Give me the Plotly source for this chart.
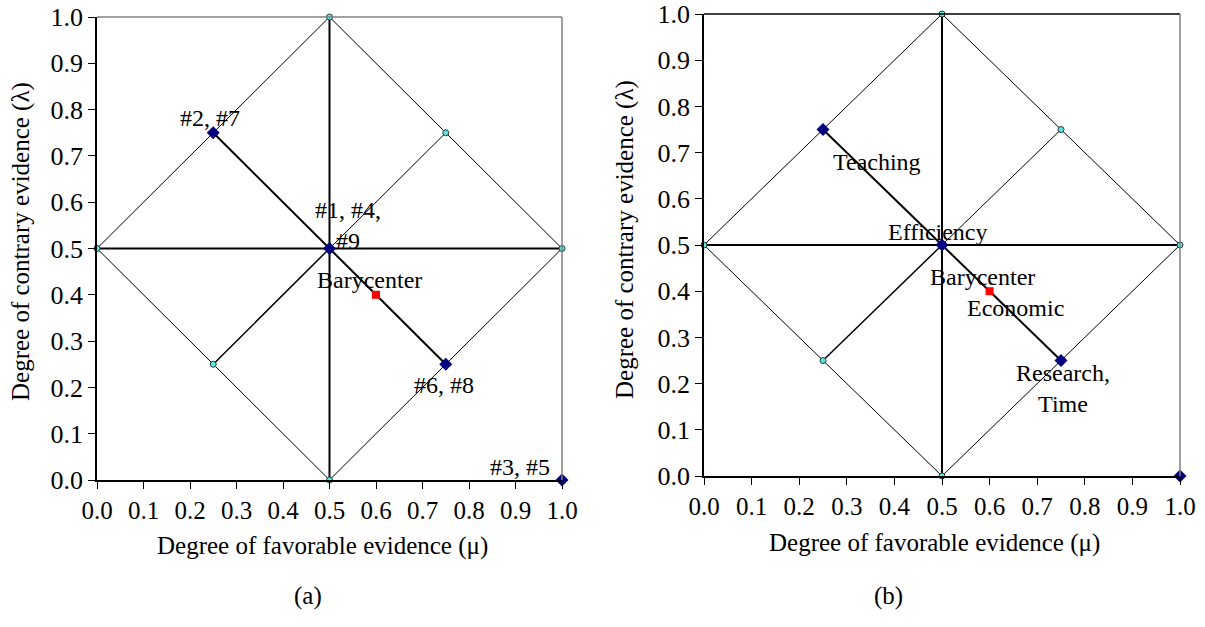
import plotly.graph_objects as go

# ---- para-analyzer lattice (favorable mu, contrary lambda) ----
outer_mu = [0, 0.5, 1, 0.5, 0]
outer_lam = [0.5, 1, 0.5, 0, 0.5]
hline_mu = [0, 1]
hline_lam = [0.5, 0.5]
vline_mu = [0.5, 0.5]
vline_lam = [0, 1]
diag_dn_mu = [0.25, 0.75]
diag_dn_lam = [0.75, 0.25]
diag_up_lo_mu = [0.25, 0.5]
diag_up_lo_lam = [0.25, 0.5]
diag_up_hi_mu = [0.5, 0.75]
diag_up_hi_lam = [0.5, 0.75]
vertex_mu = [0.5, 0, 1, 0.5, 0.75, 0.25]
vertex_lam = [1, 0.5, 0.5, 0, 0.75, 0.25]

# ---- evaluated points ----
pts_mu = [0.25, 0.5, 0.75, 1.0]
pts_lam = [0.75, 0.5, 0.25, 0.0]
labels_a = ["#2, #7", "#1, #4,<br>#9", "#6, #8", "#3, #5"]
labels_b = ["Teaching", "Efficiency", "Research,<br>Time", ""]
bary_mu = [0.6]
bary_lam = [0.4]
bary_labels_a = ["Barycenter"]
bary_labels_b = ["Barycenter", "Economic"]

tick_vals = [i / 10 for i in range(11)]
tick_text = ["%.1f" % v for v in tick_vals]

x_title = "Degree of favorable evidence (\u03bc)"
y_title = "Degree of contrary evidence (\u03bb)"
panel_tags = ["(a)", "(b)"]

FONT = "Liberation Serif, Times New Roman, serif"

W, H = 1205, 627


def px(x):
    return x / W


def py(y):
    return 1 - y / H


fig = go.Figure()


def add_panel(xa, ya):
    line_specs = [
        (outer_mu, outer_lam, 1),
        (hline_mu, hline_lam, 2),
        (vline_mu, vline_lam, 2),
        (diag_dn_mu, diag_dn_lam, 2),
        (diag_up_lo_mu, diag_up_lo_lam, 1.5),
        (diag_up_hi_mu, diag_up_hi_lam, 1),
    ]
    for mx, ly, w in line_specs:
        fig.add_trace(go.Scatter(x=mx, y=ly, mode="lines", xaxis=xa, yaxis=ya,
                                 line=dict(color="black", width=w),
                                 hoverinfo="skip", showlegend=False, cliponaxis=False))
    fig.add_trace(go.Scatter(x=vertex_mu, y=vertex_lam, mode="markers", xaxis=xa, yaxis=ya,
                             marker=dict(symbol="circle", size=6, color="rgb(90,230,225)",
                                         line=dict(color="rgb(40,60,60)", width=1)),
                             showlegend=False, cliponaxis=False))
    fig.add_trace(go.Scatter(x=pts_mu, y=pts_lam, mode="markers", xaxis=xa, yaxis=ya,
                             marker=dict(symbol="diamond", size=10, color="#000080"),
                             showlegend=False, cliponaxis=False))
    fig.add_trace(go.Scatter(x=bary_mu, y=bary_lam, mode="markers", xaxis=xa, yaxis=ya,
                             marker=dict(symbol="square", size=8, color="#ff0000"),
                             showlegend=False, cliponaxis=False))


add_panel("x", "y")
add_panel("x2", "y2")

axis_common = dict(range=[0, 1], tickvals=tick_vals, ticktext=tick_text,
                   showgrid=False, zeroline=False, showline=True, automargin=False,
                   linecolor="black", linewidth=1.5, ticks="outside",
                   ticklen=7, tickwidth=1, tickcolor="black", fixedrange=True)
xfont = dict(family=FONT, size=25, color="black")
yfont = dict(family=FONT, size=26, color="black")

fig.update_layout(
    template="none",
    width=W, height=H,
    margin=dict(l=0, r=0, t=0, b=0, pad=0),
    paper_bgcolor="white", plot_bgcolor="white",
    showlegend=False,
    xaxis=dict(domain=[px(97), px(562)], anchor="y", tickfont=xfont,
               ticklabelstandoff=0, **axis_common),
    yaxis=dict(domain=[py(480), py(17)], anchor="x", tickfont=yfont,
               **axis_common),
    xaxis2=dict(domain=[px(704), px(1180)], anchor="y2", tickfont=xfont,
                ticklabelstandoff=0, **axis_common),
    yaxis2=dict(domain=[py(476), py(14)], anchor="x2", tickfont=yfont,
                **axis_common),
)

# plot-area border (top / right)
shapes = [
    dict(type="line", xref="x domain", yref="y domain", x0=0, x1=1, y0=1, y1=1,
         line=dict(color="#808080", width=1.5)),
    dict(type="line", xref="x domain", yref="y domain", x0=1, x1=1, y0=0, y1=1,
         line=dict(color="#808080", width=1.5)),
    dict(type="line", xref="x2 domain", yref="y2 domain", x0=0, x1=1, y0=1, y1=1,
         line=dict(color="black", width=1.5)),
    dict(type="line", xref="x2 domain", yref="y2 domain", x0=1, x1=1, y0=0, y1=1,
         line=dict(color="#808080", width=1.5)),
]
fig.update_layout(shapes=shapes)

ann = []
lab_font = dict(family=FONT, size=24, color="black")

# point labels: (x offset, y offset) in pixels
offs_a = [(-3, 15), (18, 23), (-2, -21), (-42, 13)]
offs_b = [(54, -33), (-4, 13), (2, -28), (0, 0)]
for i in range(len(pts_mu)):
    if labels_a[i]:
        ann.append(dict(x=pts_mu[i], y=pts_lam[i], xref="x", yref="y", text=labels_a[i],
                        showarrow=False, xshift=offs_a[i][0], yshift=offs_a[i][1],
                        font=lab_font, align="center"))
    if labels_b[i]:
        ann.append(dict(x=pts_mu[i], y=pts_lam[i], xref="x2", yref="y2", text=labels_b[i],
                        showarrow=False, xshift=offs_b[i][0], yshift=offs_b[i][1],
                        font=lab_font, align="center"))

bary_offs_a = [(-7, 15)]
bary_offs_b = [(-7, 14), (26, -17)]
for t, (dx, dy) in zip(bary_labels_a, bary_offs_a):
    ann.append(dict(x=bary_mu[0], y=bary_lam[0], xref="x", yref="y", text=t,
                    showarrow=False, xshift=dx, yshift=dy, font=lab_font))
for t, (dx, dy) in zip(bary_labels_b, bary_offs_b):
    ann.append(dict(x=bary_mu[0], y=bary_lam[0], xref="x2", yref="y2", text=t,
                    showarrow=False, xshift=dx, yshift=dy, font=lab_font))

title_font = dict(family=FONT, size=25, color="black")
# axis titles
ann.append(dict(x=px(322), y=py(546), xref="paper", yref="paper", text=x_title,
                showarrow=False, font=title_font, xanchor="center", yanchor="middle"))
ann.append(dict(x=px(934), y=py(543), xref="paper", yref="paper", text=x_title,
                showarrow=False, font=title_font, xanchor="center", yanchor="middle"))
ann.append(dict(x=px(21), y=py(242), xref="paper", yref="paper", text=y_title,
                showarrow=False, font=title_font, textangle=-90,
                xanchor="center", yanchor="middle"))
ann.append(dict(x=px(625), y=py(240), xref="paper", yref="paper", text=y_title,
                showarrow=False, font=title_font, textangle=-90,
                xanchor="center", yanchor="middle"))
# panel tags
ann.append(dict(x=px(292), y=py(612), xref="paper", yref="paper", text=panel_tags[0],
                showarrow=False, font=title_font))
ann.append(dict(x=px(905), y=py(612), xref="paper", yref="paper", text=panel_tags[1],
                showarrow=False, font=title_font))

fig.update_layout(annotations=ann)

# remove the default page margin so the figure fills the window exactly
fig.write_html("out.html", config={"displayModeBar": False},
               post_script="document.body.style.margin='0px';document.body.style.overflow='hidden';")
